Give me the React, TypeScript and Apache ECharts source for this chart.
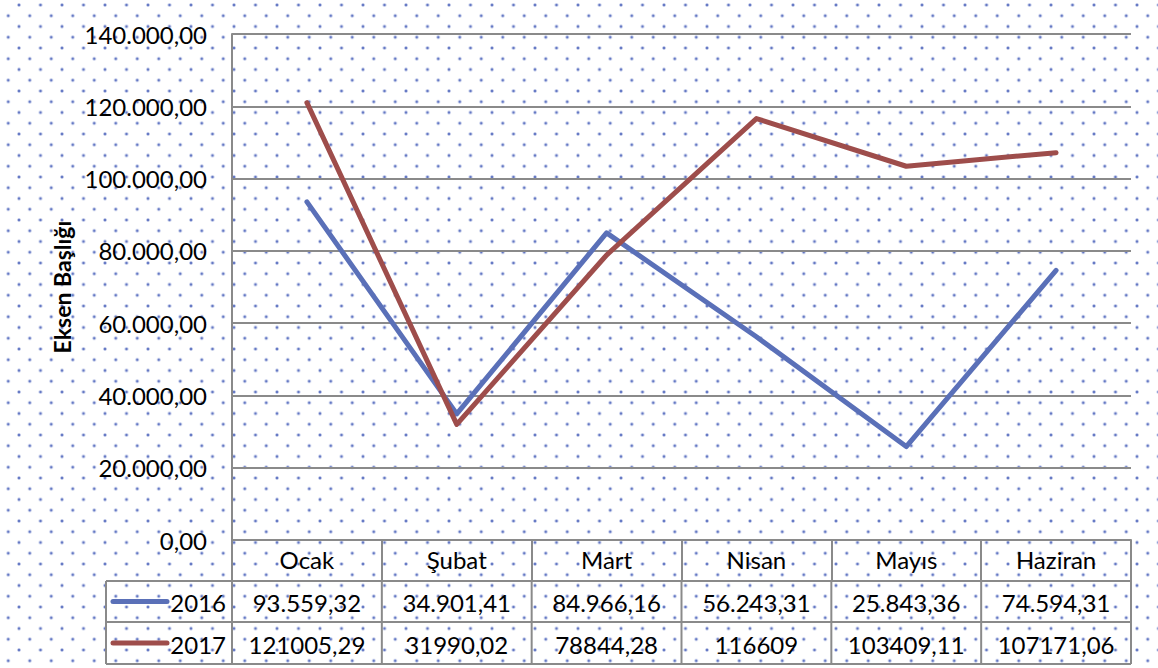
import React, { useEffect, useRef } from "react";
import * as echarts from "echarts";

const categories = ["Ocak", "Şubat", "Mart", "Nisan", "Mayıs", "Haziran"];
const seriesNames = ["2016", "2017"];
const labels2016 = ["93.559,32", "34.901,41", "84.966,16", "56.243,31", "25.843,36", "74.594,31"];
const labels2017 = ["121005,29", "31990,02", "78844,28", "116609", "103409,11", "107171,06"];
const yMin = 0;
const yMax = 140000;
const yInterval = 20000;
const axisTitle = "Eksen Başlığı";

const parseTr = (s: string) => parseFloat(s.replace(/\./g, "").replace(",", "."));
const values2016 = labels2016.map(parseTr);
const values2017 = labels2017.map(parseTr);

const W = 1158;
const H = 668;
const GL = 232;
const GR = 1131;
const GT = 34;
const GB = 540;
const ROW1 = 581;
const ROW2 = 622;
const ROW3 = 664;
const TL = 106;
const COLORS = ["#5A70B8", "#9E4D4B"];
const GRID_COLOR = "#8a8a8a";
const FONT = "Lato, 'Open Sans', sans-serif";
const FS = 24;

const fmtY = (v: number) => {
  const int = Math.round(v).toString().replace(/\B(?=(\d{3})+(?!\d))/g, ".");
  return int + ",00";
};

export default function App() {
  const ref = useRef<HTMLDivElement>(null);
  useEffect(() => {
    if (!ref.current) return;
    const chart = echarts.init(ref.current, null, { renderer: "svg" });
    const colW = (GR - GL) / categories.length;
    const graphics: any[] = [];
    const line = (x1: number, y1: number, x2: number, y2: number) =>
      graphics.push({
        type: "line",
        shape: { x1, y1, x2, y2 },
        style: { stroke: GRID_COLOR, lineWidth: 2 },
        silent: true,
      });
    [ROW1, ROW2, ROW3].forEach((y) => line(TL, y, GR, y));
    line(TL, ROW1, TL, ROW3);
    line(GL, GB, GL, ROW3);
    for (let i = 1; i <= categories.length; i++) line(GL + i * colW, ROW1, GL + i * colW, ROW3);
    const rows = [labels2016, labels2017];
    const rowY = [(ROW1 + ROW2) / 2, (ROW2 + ROW3) / 2];
    rows.forEach((labels, r) => {
      graphics.push({
        type: "line",
        shape: { x1: 113, y1: rowY[r], x2: 167, y2: rowY[r] },
        style: { stroke: COLORS[r], lineWidth: 5, lineCap: "round" },
        silent: true,
      });
      graphics.push({
        type: "text",
        x: 226,
        y: rowY[r] + 1,
        style: {
          text: seriesNames[r],
          fontFamily: FONT,
          fontSize: FS,
          fill: "#000",
          align: "right",
          verticalAlign: "middle",
        },
        silent: true,
      });
      labels.forEach((t, i) => {
        graphics.push({
          type: "text",
          x: GL + (i + 0.5) * colW,
          y: rowY[r] + 1,
          style: {
            text: t,
            fontFamily: FONT,
            fontSize: FS,
            fill: "#000",
            align: "center",
            verticalAlign: "middle",
          },
          silent: true,
        });
      });
    });

    chart.setOption({
      animation: false,
      backgroundColor: "transparent",
      grid: { left: GL, right: W - GR, top: GT, bottom: H - GB, containLabel: false },
      xAxis: {
        type: "category",
        data: categories,
        boundaryGap: true,
        axisLine: { show: true, lineStyle: { color: GRID_COLOR, width: 2 } },
        axisTick: { show: true, length: ROW1 - GB, lineStyle: { color: GRID_COLOR, width: 2 } },
        axisLabel: { margin: 7, fontFamily: FONT, fontSize: FS, color: "#000" },
        splitLine: { show: false },
      },
      yAxis: {
        type: "value",
        min: yMin,
        max: yMax,
        interval: yInterval,
        name: axisTitle,
        nameLocation: "middle",
        nameRotate: 90,
        nameGap: 156,
        nameTextStyle: { fontFamily: FONT, fontSize: 23, fontWeight: "bold", color: "#000" },
        axisLine: { show: true, lineStyle: { color: GRID_COLOR, width: 2 } },
        axisTick: { show: false },
        axisLabel: { margin: 25, fontFamily: FONT, fontSize: FS, color: "#000", formatter: fmtY },
        splitLine: { show: true, lineStyle: { color: GRID_COLOR, width: 2 } },
      },
      series: [values2016, values2017].map((d, i) => ({
        name: seriesNames[i],
        type: "line",
        data: d,
        symbol: "none",
        lineStyle: { color: COLORS[i], width: 5, cap: "round", join: "round" },
        itemStyle: { color: COLORS[i] },
        z: 3,
      })),
      graphic: graphics,
    });
    return () => chart.dispose();
  }, []);

  const dot = (c: string) => `radial-gradient(circle at center, ${c} 0px, ${c} 1px, rgba(110,130,200,0.35) 1.6px, transparent 2.2px)`;
  return (
    <div
      style={{
        position: "fixed",
        left: 0,
        top: 0,
        width: W,
        height: H,
        background: "#fff",
        backgroundImage: `${dot("#6478c4")}, ${dot("#6478c4")}`,
        backgroundSize: "21.5px 21.5px, 21.5px 21.5px",
        backgroundPosition: "8.25px -5.75px, 19px 5px",
      }}
    >
      <div ref={ref} style={{ width: W, height: H }} />
    </div>
  );
}
